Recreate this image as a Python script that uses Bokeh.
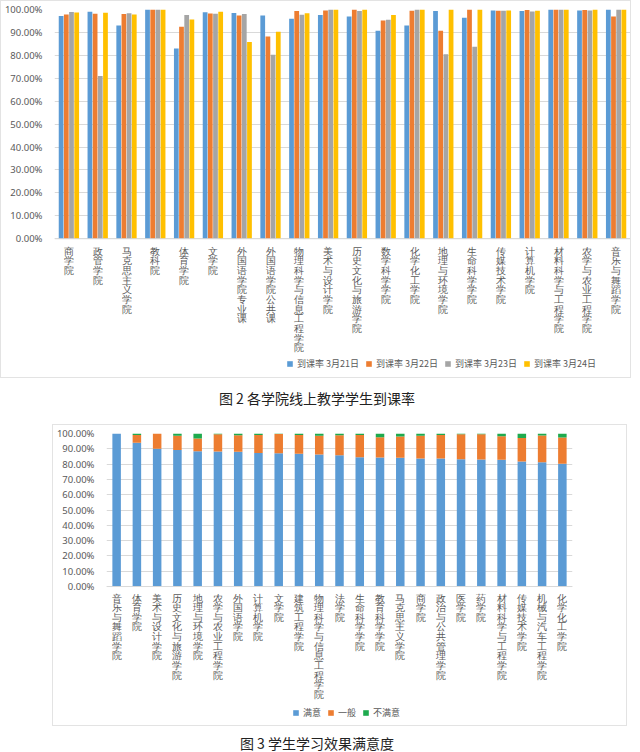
from bokeh.plotting import figure
from bokeh.models import (Range1d, Legend, LegendItem, PrintfTickFormatter,
                          FixedTicker, Div, ColumnDataSource, LabelSet, Span)
from bokeh.transform import dodge
from bokeh.layouts import column
from bokeh.embed import file_html
from bokeh.resources import INLINE

# ---------------- data: figure 2 (attendance) ----------------
colleges1 = ["商学院", "政管学院", "马克思主义学院", "教科院", "体育学院", "文学院",
             "外国语学院专业课", "外国语学院公共课", "物理科学与信息工程学院", "美术与设计学院",
             "历史文化与旅游学院", "数学科学学院", "化学化工学院", "地理与环境学院", "生命科学学院",
             "传媒技术学院", "计算机学院", "材料科学与工程学院", "农学与农业工程学院", "音乐与舞蹈学院"]
rate_0321 = [97.2, 99.0, 93.0, 100, 83.0, 98.8, 98.5, 97.4, 96.0, 97.6,
             97.0, 90.7, 93.0, 99.4, 96.4, 99.6, 99.4, 100, 99.6, 100]
rate_0322 = [97.8, 98.2, 98.0, 100, 92.5, 98.3, 97.4, 88.2, 99.3, 99.6,
             100, 95.2, 99.5, 90.7, 100, 99.5, 99.8, 100, 99.8, 97.0]
rate_0323 = [98.9, 71.0, 98.4, 100, 97.6, 98.2, 98.0, 80.3, 97.7, 100,
             99.4, 95.5, 100, 80.5, 83.8, 99.5, 99.1, 100, 99.6, 100]
rate_0324 = [98.7, 98.6, 97.8, 100, 95.6, 99.0, 85.8, 90.3, 98.4, 100,
             100, 97.6, 100, 100, 100, 99.6, 99.5, 100, 100, 100]
series1 = ["到课率 3月21日", "到课率 3月22日", "到课率 3月23日", "到课率 3月24日"]
caption1 = "图 2  各学院线上教学学生到课率"

# ---------------- data: figure 3 (satisfaction) ----------------
colleges2 = ["音乐与舞蹈学院", "体育学院", "美术与设计学院", "历史文化与旅游学院", "地理与环境学院",
             "农学与农业工程学院", "外国语学院", "计算机学院", "文学院", "建筑工程学院",
             "物理科学与信息工程学院", "法学院", "生命科学学院", "教育科学学院", "马克思主义学院",
             "商学院", "政治与公共管理学院", "医学院", "药学院", "材料科学与工程学院",
             "传媒技术学院", "机械与汽车工程学院", "化学化工学院"]
satisfied = [100, 94.0, 90.0, 89.3, 88.4, 88.2, 88.1, 87.3, 87.1, 86.7, 86.2, 85.8,
             84.5, 84.3, 84.1, 83.6, 83.6, 83.2, 83.0, 82.8, 81.7, 81.2, 80.3]
neutral = [0, 5.0, 10.0, 9.2, 8.3, 11.3, 10.7, 11.7, 12.6, 12.3, 12.3, 13.0,
           14.5, 13.3, 13.9, 15.0, 15.4, 16.3, 16.5, 15.4, 15.3, 17.5, 17.1]
unsatisfied = [0, 1.0, 0, 1.5, 3.3, 0.5, 1.2, 1.0, 0.3, 1.0, 1.5, 1.2,
               1.0, 2.4, 2.0, 1.4, 1.0, 0.5, 0.5, 1.8, 3.0, 1.3, 2.6]
series2 = ["满意", "一般", "不满意"]
caption2 = "图 3  学生学习效果满意度"

y_ticks = list(range(0, 101, 10))

# ---------------- styles ----------------
COLORS1 = ["#5B9BD5", "#ED7D31", "#A5A5A5", "#FFC000"]
COLORS2 = ["#5B9BD5", "#ED7D31", "#1EAA4E"]
TXT = "#595959"
GRID = "#D9D9D9"
CJK = "Noto Sans CJK SC"
NUM = "Noto Sans"
BOX = {"border": "1px solid #E3E3E3", "box-sizing": "border-box"}


def make_fig(n, bars_px, below_px, width_px, left, right, margin=None):
    """Frame covers the bars (0..100) plus an area below for labels and legend."""
    ymin = -100.0 * below_px / bars_px
    kw = dict(frame_width=width_px, frame_height=bars_px + below_px,
              x_range=Range1d(-0.5, n - 0.5), y_range=Range1d(ymin, 100),
              x_axis_location=None, output_backend="svg", toolbar_location=None,
              min_border_left=left, min_border_right=right, min_border_top=8,
              min_border_bottom=4, styles=BOX)
    if margin is not None:
        kw["margin"] = margin
    p = figure(**kw)
    p.yaxis.ticker = FixedTicker(ticks=y_ticks, minor_ticks=[])
    p.yaxis.formatter = PrintfTickFormatter(format="%.2f%%")
    p.yaxis.axis_line_color = None
    p.yaxis.major_tick_line_color = None
    p.yaxis.minor_tick_line_color = None
    p.yaxis.major_label_text_font = NUM
    p.yaxis.major_label_text_font_size = "9.5px"
    p.yaxis.major_label_text_color = TXT
    p.yaxis.major_label_standoff = 6
    p.ygrid.grid_line_color = GRID
    p.xgrid.grid_line_color = None
    p.outline_line_color = None
    p.add_layout(Span(location=0, dimension="width", line_color=GRID, line_width=1))
    return p


def vertical_labels(p, names, bars_px, gap, pitch):
    """Upright stacked characters under each category (vertical CJK text)."""
    ppu = bars_px / 100.0
    xs, ys, chars = [], [], []
    for i, name in enumerate(names):
        for k, ch in enumerate(name):
            xs.append(i)
            ys.append(-(gap + k * pitch) / ppu)
            chars.append(ch)
    src = ColumnDataSource(dict(x=xs, y=ys, t=chars))
    p.add_layout(LabelSet(x="x", y="y", text="t", source=src,
                          text_align="center", text_baseline="top",
                          text_font=CJK, text_font_size="9.5px", text_color=TXT))


def make_legend(items, loc, spacing):
    return Legend(items=items, orientation="horizontal", location=loc,
                  label_text_font=CJK, label_text_font_size="9px", label_text_color=TXT,
                  glyph_width=7, glyph_height=7, label_standoff=4, spacing=spacing,
                  label_width=10, border_line_color=None, background_fill_alpha=0,
                  padding=2, margin=0)


# ---------------- figure 2 ----------------
BARS1, BELOW1 = 228, 136
src1 = ColumnDataSource(dict(idx=list(range(len(colleges1))), college=colleges1,
                             r1=rate_0321, r2=rate_0322, r3=rate_0323, r4=rate_0324))
p1 = make_fig(len(colleges1), BARS1, BELOW1, 574, 46, 2)
offsets = [-0.27, -0.09, 0.09, 0.27]
items1 = []
for key, off, col, lab in zip(["r1", "r2", "r3", "r4"], offsets, COLORS1, series1):
    r = p1.vbar(x=dodge("idx", off), top=key, width=0.165,
                source=src1, fill_color=col, line_color=None)
    items1.append(LegendItem(label=lab, renderers=[r]))
vertical_labels(p1, colleges1, BARS1, 8, 9.6)
p1.add_layout(make_legend(items1, (232, 5), 6))

cap1 = Div(text=caption1, width=624, height=36,
           styles={"text-align": "center", "font-size": "14px", "line-height": "30px",
                   "font-family": CJK, "color": "#222222", "width": "624px"})

# ---------------- figure 3 ----------------
BARS2, BELOW2 = 152, 136
src2 = ColumnDataSource(dict(idx=list(range(len(colleges2))), college=colleges2,
                             s=satisfied, n=neutral, u=unsatisfied))
p2 = make_fig(len(colleges2), BARS2, BELOW2, 464, 52, 56, margin=(0, 0, 0, 52))
rs = p2.vbar_stack(["s", "n", "u"], x="idx", width=0.42, source=src2,
                   fill_color=COLORS2, line_color=None)
vertical_labels(p2, colleges2, BARS2, 7, 9.55)
p2.add_layout(make_legend([LegendItem(label=l, renderers=[r]) for l, r in zip(series2, rs)],
                          (186, 4), 6))

cap2 = Div(text=caption2, width=624, height=24,
           styles={"text-align": "center", "font-size": "14px", "line-height": "24px",
                   "font-family": CJK, "color": "#222222", "width": "624px"})

layout = column(p1, cap1, p2, cap2, spacing=0)
open("out.html", "w").write(file_html(layout, INLINE))
